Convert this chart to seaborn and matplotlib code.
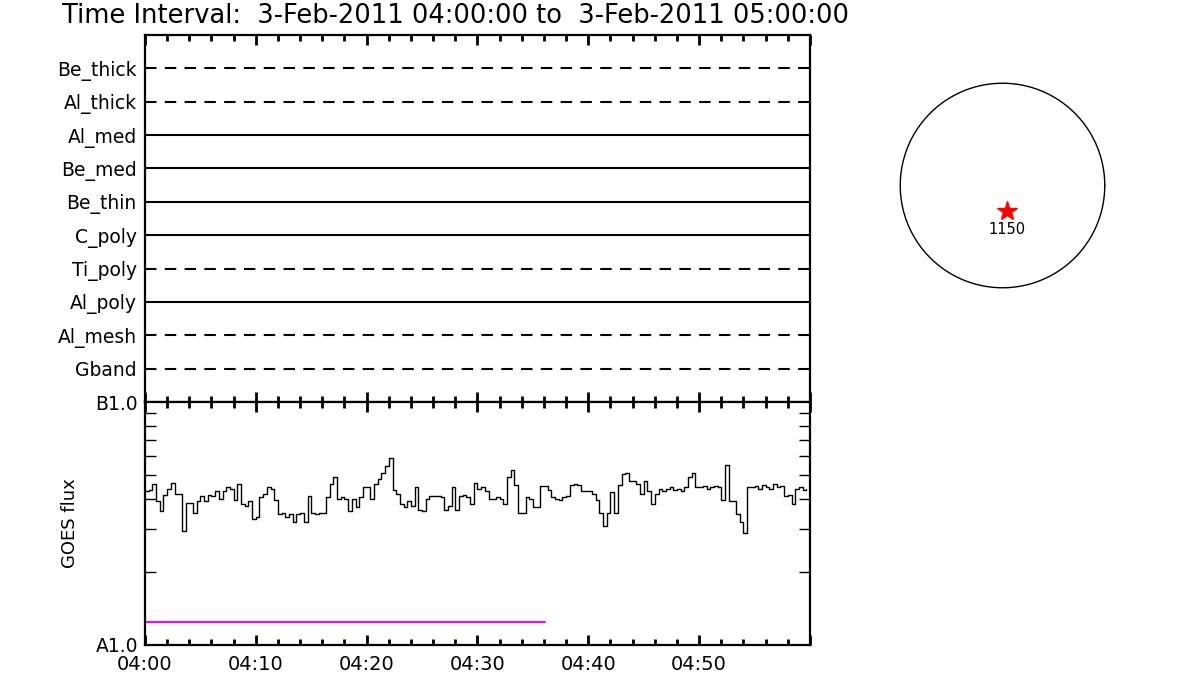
import matplotlib
matplotlib.use("Agg")
import matplotlib.pyplot as plt
import seaborn as sns
import numpy as np
import pandas as pd
from matplotlib.ticker import FixedLocator, NullFormatter, LogLocator

# ---------------- data ----------------
title_text = "Time Interval:  3-Feb-2011 04:00:00 to  3-Feb-2011 05:00:00"

channels = ["Be_thick", "Al_thick", "Al_med", "Be_med", "Be_thin",
            "C_poly", "Ti_poly", "Al_poly", "Al_mesh", "Gband"]
channel_dashed = [True, True, False, False, False,
                  False, True, False, True, True]

# GOES flux, units of 1e-8 W/m^2, one value every 20 s from 04:00
goes_flux_1e8 = [
    4.3, 4.35, 4.6,   3.9, 3.55, 4.15,  4.4, 4.65, 4.2,   4.2, 2.95, 3.85,
    3.85, 3.5, 3.9,   4.1, 3.9, 4.15,   4.1, 4.3, 4.0,    4.3, 4.45, 4.4,
    3.95, 4.6, 3.8,   3.75, 3.9, 3.3,   3.35, 4.05, 4.2,  4.45, 4.4, 3.95,
    3.45, 3.5, 3.35,  3.45, 3.2, 3.45,  3.5, 3.2, 4.1,    3.5, 3.45, 3.5,
    3.5, 4.05, 4.6,   4.9, 4.0, 4.05,   4.0, 3.55, 4.0,   3.7, 4.05, 4.45,
    4.45, 4.0, 4.6,   4.8, 5.1, 5.45,   5.9, 4.35, 4.2,   3.8, 3.7, 3.9,
    3.75, 4.45, 3.6,  3.55, 4.0, 4.1,   4.1, 4.1, 4.05,   3.6, 3.75, 4.45,
    3.6, 4.1, 4.15,   4.05, 3.8, 4.65,  4.4, 4.45, 4.3,   4.0, 4.0, 4.05,
    4.0, 3.8, 4.9,    5.25, 4.55, 3.5,  3.5, 4.05, 4.0,   3.7, 3.7, 4.5,
    4.5, 4.35, 4.05,  4.0, 3.95, 4.05,  4.1, 4.55, 4.6,   4.55, 4.3, 4.3,
    4.3, 4.2, 3.95,   3.5, 3.1, 3.5,    4.25, 3.5, 4.55,  5.05, 5.1, 4.75,
    4.75, 4.6, 4.2,   4.75, 4.3, 3.8,   4.2, 4.4, 4.3,    4.4, 4.45, 4.35,
    4.4, 4.3, 4.45,   4.9, 5.1, 4.45,   4.45, 4.5, 4.4,   4.45, 4.5, 4.45,
    3.95, 5.5, 3.9,   3.9, 3.45, 3.2,   2.9, 4.45, 4.45,  4.5, 4.4, 4.55,
    4.45, 4.4, 4.6,   4.45, 4.5, 4.1,   4.15, 3.8, 4.4,   4.45, 4.35, 4.4,
]
sample_step_min = 1.0 / 3.0

# magenta reference segment (minutes after 04:00, flux 1e-8)
magenta_span_min = [0.0, 36.1]
magenta_level_1e8 = 1.24

time_tick_minutes = [0, 10, 20, 30, 40, 50]
time_tick_labels = ["04:00", "04:10", "04:20", "04:30", "04:40", "04:50"]
flux_tick_values = [1e-8, 1e-7]
flux_tick_labels = ["A1.0", "B1.0"]

source_label = "1150"
source_pos = [0.04, -0.245]

# ---------------- style ----------------
sns.set_theme(style="white")
plt.rcParams["font.family"] = ["DejaVu Sans"]
plt.rcParams["axes.linewidth"] = 1.6
plt.rcParams["text.color"] = "black"
plt.rcParams["axes.labelcolor"] = "black"
plt.rcParams["xtick.color"] = "black"
plt.rcParams["ytick.color"] = "black"
plt.rcParams["xtick.labelcolor"] = "black"
plt.rcParams["ytick.labelcolor"] = "black"

fig = plt.figure(figsize=(12, 7), dpi=100)
ax_top = fig.add_axes([0.1208, 0.4257, 0.5542, 0.5243])
ax_bot = fig.add_axes([0.1208, 0.0786, 0.5542, 0.3471])
ax_sun = fig.add_axes([890 / 1200, 1 - 298 / 700, 225 / 1200, 225 / 700])

# ---------------- top panel ----------------
n = len(channels)
for i, (name, dashed) in enumerate(zip(channels, channel_dashed)):
    yv = n - i
    ax_top.hlines(yv, 0, 60, colors="black", lw=1.5,
                  linestyles=(0, (5.5, 4)) if dashed else "solid")
ax_top.set_xlim(0, 60)
ax_top.set_ylim(0, n + 1)
ax_top.set_yticks([n - i for i in range(n)])
ax_top.set_yticklabels(channels, fontsize=13.5)
ax_top.tick_params(axis="y", length=0, pad=6)
ax_top.xaxis.set_major_locator(FixedLocator(time_tick_minutes + [60]))
ax_top.xaxis.set_minor_locator(FixedLocator(np.arange(0, 61, 2)))
ax_top.tick_params(axis="x", which="both", direction="in", top=True,
                   bottom=True, labelbottom=False, color="black")
ax_top.tick_params(axis="x", which="major", length=7, width=2)
ax_top.tick_params(axis="x", which="minor", length=4, width=2)
for s in ax_top.spines.values():
    s.set_color("black")

# ---------------- bottom panel ----------------
df = pd.DataFrame({
    "minutes": np.arange(len(goes_flux_1e8)) * sample_step_min,
    "flux": np.array(goes_flux_1e8) * 1e-8,
})
sns.lineplot(data=df, x="minutes", y="flux", ax=ax_bot, color="black",
             lw=1.0, drawstyle="steps-post")
seg = pd.DataFrame({"minutes": magenta_span_min,
                    "flux": [magenta_level_1e8 * 1e-8] * 2})
sns.lineplot(data=seg, x="minutes", y="flux", ax=ax_bot, color="#ff00ff",
             lw=1.5)
ax_bot.set_yscale("log")
ax_bot.set_ylim(flux_tick_values[0], flux_tick_values[1])
ax_bot.set_xlim(0, 60)
ax_bot.set_yticks(flux_tick_values)
ax_bot.set_yticklabels(flux_tick_labels, fontsize=13.5)
ax_bot.yaxis.set_minor_locator(LogLocator(base=10, subs=np.arange(2, 10)))
ax_bot.yaxis.set_minor_formatter(NullFormatter())
ax_bot.tick_params(axis="y", which="both", direction="in", left=True,
                   right=True, color="black", pad=5)
ax_bot.tick_params(axis="y", which="major", length=10, width=1.2)
ax_bot.tick_params(axis="y", which="minor", length=8, width=1.0)
ax_bot.xaxis.set_major_locator(FixedLocator(time_tick_minutes + [60]))
ax_bot.set_xticklabels(time_tick_labels + [""], fontsize=14)
ax_bot.xaxis.set_minor_locator(FixedLocator(np.arange(0, 61, 2)))
ax_bot.tick_params(axis="x", which="both", direction="in", top=True,
                   bottom=True, color="black", pad=7)
ax_bot.tick_params(axis="x", which="major", length=7, width=2)
ax_bot.tick_params(axis="x", which="minor", length=4, width=2)
ax_bot.set_xlabel("")
ax_bot.set_ylabel("GOES flux", fontsize=13, labelpad=12, color="black")
for s in ax_bot.spines.values():
    s.set_color("black")

# ---------------- title ----------------
fig.text(62 / 1200, 1 - 16 / 700, title_text, fontsize=18.5,
         ha="left", va="center", color="black")

# ---------------- solar disk ----------------
theta = np.linspace(0, 2 * np.pi, 400)
ax_sun.plot(np.cos(theta), np.sin(theta), color="black", lw=1.0)
ax_sun.plot([source_pos[0]], [source_pos[1]], marker="*", color="red",
            markersize=15, markeredgecolor="red")
ax_sun.text(source_pos[0], source_pos[1] - 0.19, source_label, fontsize=10.5,
            ha="center", va="center", color="black")
ax_sun.set_xlim(-1.1, 1.1)
ax_sun.set_ylim(-1.1, 1.1)
ax_sun.set_aspect("equal")
ax_sun.axis("off")

fig.savefig("out.png", dpi=100, facecolor="white")
